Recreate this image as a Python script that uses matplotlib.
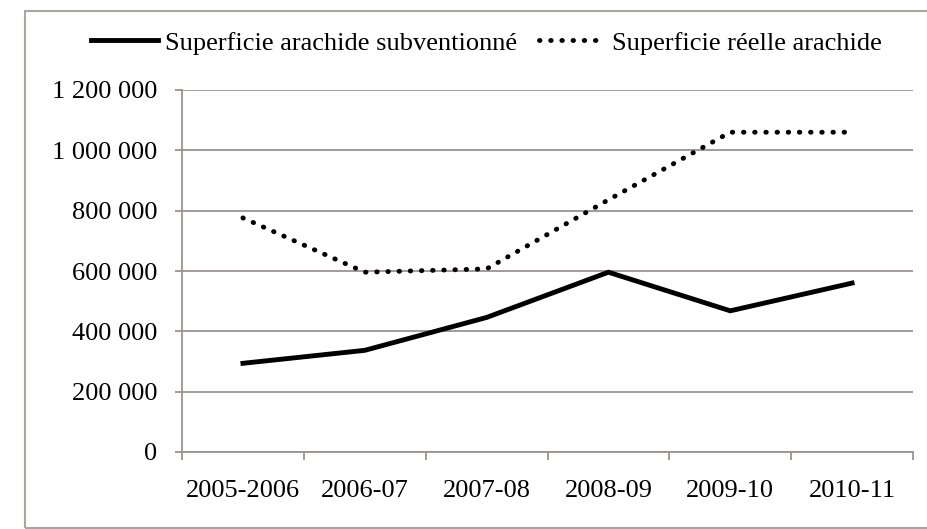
import matplotlib.pyplot as plt
from matplotlib.ticker import FuncFormatter

# campaign years and groundnut areas (ha)
campagnes = ['2005-2006', '2006-07', '2007-08', '2008-09', '2009-10', '2010-11']
superficie_subv = [294000, 337000, 446000, 596000, 468000, 560000]
superficie_reelle = [776000, 596000, 607000, 836000, 1060000, 1060000]

plt.rcParams['font.family'] = ['Liberation Serif', 'DejaVu Serif']
grid_col = '#9b9391'
fs = 19

W, H = 927, 529
fig = plt.figure(figsize=(W / 100, H / 100), dpi=100)
# outer frame around the whole chart (right edge runs off the image)
fig.patches.append(plt.Rectangle((25 / W, 1 - 528 / H), 1.0, 517 / H,
                                 transform=fig.transFigure, fill=False,
                                 edgecolor='#aaa4a2', lw=1.5))

ax = fig.add_axes([182 / W, 1 - 452 / H, (913 - 182) / W, (452 - 90) / H])

x = range(len(campagnes))
ax.plot(x, superficie_subv, color='black', lw=3.5, solid_joinstyle='miter',
        label='Superficie arachide subventionné')
ax.plot(x, superficie_reelle, color='black', lw=3.5, linestyle=(0, (0.1, 2.2)),
        dash_capstyle='round', label='Superficie réelle arachide')

ax.set_xlim(-0.5, len(campagnes) - 0.5)
ax.set_ylim(0, 1200000)
ax.set_yticks(range(0, 1200001, 200000))
ax.yaxis.set_major_formatter(FuncFormatter(lambda v, p: f'{int(v):,}'.replace(',', ' ')))
ax.grid(axis='y', color=grid_col, lw=1.3)
ax.set_axisbelow(True)

ax.set_xticks(list(x))
ax.set_xticklabels(campagnes)
ax.set_xticks([i - 0.5 for i in range(len(campagnes) + 1)], minor=True)
ax.tick_params(axis='x', which='major', length=0, pad=20.5, labelsize=fs)
ax.tick_params(axis='x', which='minor', length=6, color=grid_col, width=1.3)
ax.tick_params(axis='y', length=5, color=grid_col, width=1.3, pad=13, labelsize=fs)

for s in ['top', 'right']:
    ax.spines[s].set_visible(False)
for s in ['left', 'bottom']:
    ax.spines[s].set_color(grid_col)
    ax.spines[s].set_linewidth(1.3)

fig.legend(*ax.get_legend_handles_labels(), loc='center',
           bbox_to_anchor=(486.5 / W, 1 - 43 / H), ncol=2, frameon=False,
           fontsize=fs, handlelength=2.54, handletextpad=0.23, columnspacing=0.83,
           borderpad=0, borderaxespad=0)

fig.savefig('out.png', dpi=100)
